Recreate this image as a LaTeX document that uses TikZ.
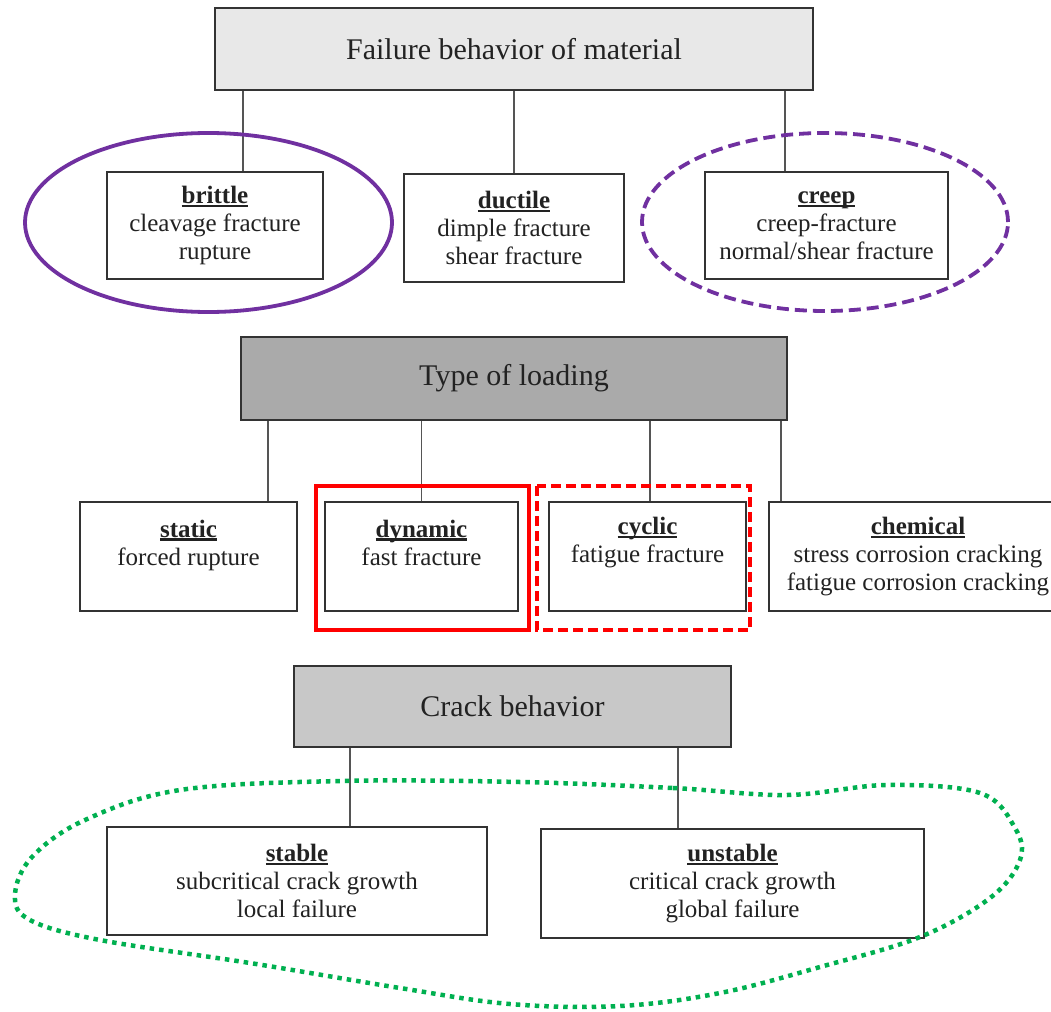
\documentclass[tikz,border=0pt]{standalone}
\usepackage{fontspec}
\setmainfont{Liberation Serif}
\usetikzlibrary{positioning}
\definecolor{hpurple}{HTML}{7030A0}
\definecolor{hgreen}{HTML}{00B050}
\definecolor{txt}{HTML}{222222}
\definecolor{boxline}{HTML}{333333}
\definecolor{conn}{HTML}{555555}
\newcommand\hd[1]{\textbf{\setbox0\hbox{#1}\rlap{\rule[-3.5pt]{\wd0}{2.2pt}}\box0}}
\tikzset{
  head/.style={draw=boxline, line width=2pt, text=txt, font=\fontsize{30}{34}\selectfont, inner sep=0pt},
  leaf/.style={draw=boxline, line width=1.8pt, fill=white, text=txt, align=center, font=\fontsize{25}{28}\selectfont, inner sep=0pt},
  conline/.style={draw=conn, line width=1.5pt},
  mark purple/.style={draw=hpurple, line width=3.8pt},
  mark red/.style={draw=red, line width=4pt},
  mark green/.style={draw=hgreen, line width=4.5pt, dash pattern=on 4.5pt off 5pt}
}
\begin{document}
\begin{tikzpicture}[x=1pt,y=-1pt]
\clip (0,0) rectangle (1051,1011);
\fill[white] (0,0) rectangle (1051,1011);

% section 1
\node[head, fill={rgb,255:red,232;green,232;blue,232}, minimum width=598pt, minimum height=82pt] (fail) at (514,49) {Failure behavior of material};
\node[leaf, minimum width=216pt, minimum height=107pt] (brittle) at (215,225.5) {\hd{brittle}\\cleavage fracture\\rupture};
\node[leaf, minimum width=220pt, minimum height=108pt] (ductile) at (514,228) {\hd{ductile}\\dimple fracture\\shear fracture};
\node[leaf, minimum width=243pt, minimum height=107pt] (creep) at (826.5,225.5) {\hd{creep}\\creep-fracture\\normal/shear fracture};
\draw[conline] ([xshift=28pt]brittle.north) -- ([xshift=28pt]brittle.north |- fail.south);
\draw[conline] (ductile.north) -- (ductile.north |- fail.south);
\draw[conline] ([xshift=-41.5pt]creep.north) -- ([xshift=-41.5pt]creep.north |- fail.south);
\draw[mark purple] (208.5,222.5) ellipse [x radius=183.5pt, y radius=89.5pt];
\draw[mark purple, dash pattern=on 12pt off 6pt] (825,222) ellipse [x radius=183pt, y radius=89pt];

% section 2
\node[head, fill={rgb,255:red,170;green,170;blue,170}, minimum width=546pt, minimum height=83pt] (load) at (514,378.5) {Type of loading};
\node[leaf, minimum width=217pt, minimum height=109pt] (static) at (188.5,556.5) {\hd{static}\\forced rupture\\\mbox{}};
\node[leaf, minimum width=193pt, minimum height=109pt] (dynamic) at (421.5,556.5) {\hd{dynamic}\\fast fracture\\\mbox{}};
\node[leaf, minimum width=197pt, minimum height=109pt] (cyclic) at (647.5,556.5) {\hd{cyclic}\\fatigue fracture\\[5pt]\mbox{}};
\node[leaf, minimum width=298pt, minimum height=109pt] (chemical) at (918,556.5) {\hd{chemical}\\stress corrosion cracking\\fatigue corrosion cracking};
\draw[conline] ([xshift=79.5pt]static.north) -- ([xshift=79.5pt]static.north |- load.south);
\draw[conline] (dynamic.north) -- (dynamic.north |- load.south);
\draw[conline] ([xshift=2.5pt]cyclic.north) -- ([xshift=2.5pt]cyclic.north |- load.south);
\draw[conline] ([xshift=-137pt]chemical.north) -- ([xshift=-137pt]chemical.north |- load.south);
\draw[mark red] (316,486) rectangle (529,630);
\draw[mark red, dash pattern=on 10pt off 5pt] (537,486) rectangle (750,630);

% section 3
\node[head, fill={rgb,255:red,200;green,200;blue,200}, minimum width=437pt, minimum height=81pt] (crack) at (512.5,706.5) {Crack behavior};
\node[leaf, minimum width=380pt, minimum height=108pt] (stable) at (297,881) {\hd{stable}\\subcritical crack growth\\local failure};
\node[leaf, minimum width=383pt, minimum height=109pt] (unstable) at (732.5,883.5) {\hd{unstable}\\critical crack growth\\global failure};
\draw[conline] ([xshift=53pt]stable.north) -- ([xshift=53pt]stable.north |- crack.south);
\draw[conline] ([xshift=-54.5pt]unstable.north) -- ([xshift=-54.5pt]unstable.north |- crack.south);
\draw[mark green] plot[smooth cycle, tension=0.6] coordinates {
 (520,782) (673,788) (787,795) (887,785) (980,793) (1015,828) (1020,860) (990,898)
 (920,937) (820,967) (720,993) (620,1006) (510,1004) (400,988) (250,963) (100,940)
 (30,920) (15,895) (32,857) (85,820) (180,790) (340,781)};
\end{tikzpicture}
\end{document}
